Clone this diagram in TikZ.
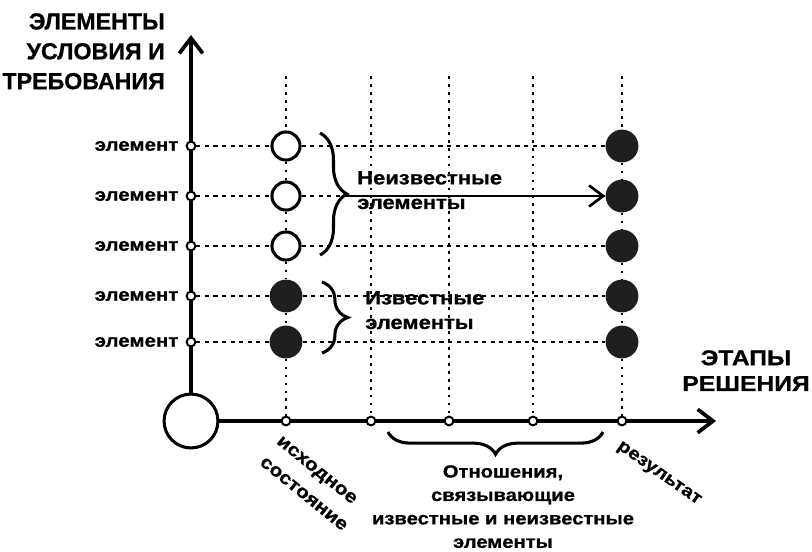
\documentclass[tikz,border=0pt]{standalone}
\usepackage{fontspec}
\setmainfont{Liberation Sans}[FakeStretch=1.15, BoldFeatures={FakeBold=0.8}]
\newfontfamily\titlefont{Liberation Sans}[BoldFeatures={FakeBold=0.8}]
\usetikzlibrary{arrows.meta, positioning, decorations.pathreplacing}

\tikzset{
  axis/.style={line width=3.2pt, -{Straight Barb[length=13pt,width=20pt]}},
  tick/.style={circle, draw, fill=white, line width=1.7pt, inner sep=0pt, minimum size=7.5pt},
  origin/.style={circle, draw, line width=2.6pt, inner sep=0pt, minimum size=46pt},
  hollow/.style={circle, draw, fill=white, line width=2.6pt, inner sep=0pt, minimum size=24pt},
  solid/.style={circle, fill=black!88, inner sep=0pt, minimum size=28pt},
  rowline/.style={line width=1.8pt, dash pattern=on 3.5pt off 3.8pt},
  colline/.style={line width=1.9pt, dash pattern=on 2.4pt off 4.4pt},
  bigbrace/.style={line width=2.6pt, decorate, decoration={brace, amplitude=#1}},
  lbl/.style={inner sep=0pt, font=\bfseries\fontsize{15.2}{18}\selectfont},
  note/.style={inner sep=0pt, align=left, font=\bfseries\fontsize{16.3}{21}\selectfont}
}

\begin{document}
\begin{tikzpicture}[x=0.03cm, y=-0.03cm]
\useasboundingbox (0,0) rectangle (812,551);

% axes
\node[origin] (O) at (191,421) {};
\coordinate (ytop) at (191,35);
\coordinate (xend) at (716,421);
\draw[axis] (O) -- (ytop);
\draw[axis] (O) -- (xend);

% points on the axes
\foreach \y [count=\i] in {146,196,246,296,342}
  \node[tick] (e\i) at (191,\y) {};
\foreach \x [count=\j] in {286,371,449,533,622} {
  \node[tick] (c\j) at (\x,421) {};
  \coordinate (t\j) at (\x,76);
}

% states of the elements
\foreach \y/\st [count=\i] in {146/hollow,196/hollow,246/hollow,296/solid,342/solid} {
  \node[\st] (s\i) at (286,\y) {};
  \node[solid] (f\i) at (622,\y) {};
}

% grid
\foreach \i in {1,...,5}
  \draw[rowline] (e\i) -- (s\i) -- (f\i);
\draw[colline] (t1) -- (s1) -- (s2) -- (s3) -- (s4) -- (s5) -- (c1);
\draw[colline] (t5) -- (f1) -- (f2) -- (f3) -- (f4) -- (f5) -- (c5);
\foreach \j in {2,3,4}
  \draw[colline] (t\j) -- (c\j);

% labels of the rows
\foreach \i in {1,...,5}
  \node[lbl, left=6pt of e\i] (l\i) {элемент};

% axis titles
\node[inner sep=0pt, align=right, anchor=north east,
      font=\titlefont\bfseries\fontsize{19.8}{25.5}\selectfont] (ytitle) at (165,13)
  {ЭЛЕМЕНТЫ\\УСЛОВИЯ И\\ТРЕБОВАНИЯ};
\node[inner sep=0pt, align=center, anchor=north,
      font=\bfseries\fontsize{18.3}{22}\selectfont] (xtitle) at (746,350)
  {ЭТАПЫ\\РЕШЕНИЯ};

% unknown elements
\coordinate (ub1) at (320,133);
\coordinate (ub2) at (320,255);
\coordinate (ut) at (348,196);
\draw[bigbrace=23pt] (ub1) -- (ub2);
\draw[line width=2.3pt, -{Straight Barb[length=12pt,width=18pt]}] (ut) -- (f2);
\node[note, anchor=north west] (unk) at (357,171) {Неизвестные\\элементы};

% known elements
\coordinate (kb1) at (322,282);
\coordinate (kb2) at (322,353);
\draw[bigbrace=22pt] (kb1) -- (kb2);
\node[note, anchor=north west] (kn) at (365,291) {Известные\\элементы};

% relations
\coordinate (rb1) at (603,432);
\coordinate (rb2) at (388,432);
\draw[bigbrace=19pt] (rb1) -- (rb2);
\node[inner sep=0pt, align=center, anchor=north,
      font=\bfseries\fontsize{15}{20}\selectfont] (rel) at (503,465)
  {Отношения,\\связывающие\\известные и неизвестные\\элементы};

% stage names
\node[inner sep=0pt, align=left, anchor=north west, rotate=-39,
      font=\bfseries\fontsize{15.5}{23}\selectfont] (start) at (282,435)
  {исходное\\состояние};
\node[inner sep=0pt, anchor=north west, rotate=-35,
      font=\bfseries\fontsize{15}{18}\selectfont] (res) at (622,440) {результат};
\end{tikzpicture}
\end{document}
